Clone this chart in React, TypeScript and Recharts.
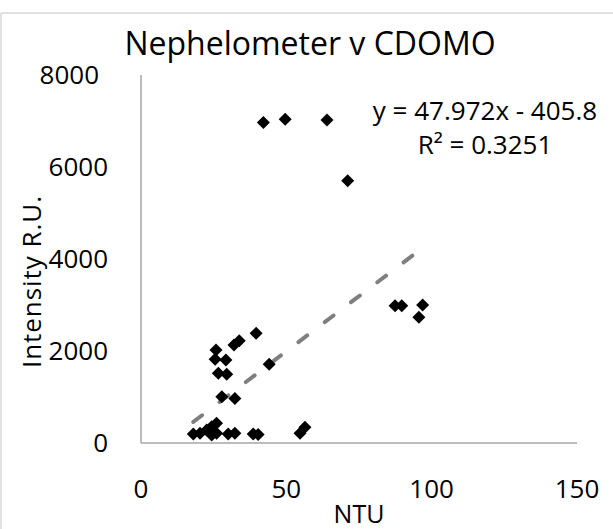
import { ReferenceLine, Scatter, ScatterChart, XAxis, YAxis } from "recharts";

// NTU readings vs CDOMO intensity
const ntu = [
  42.1, 49.6, 64.0, 71.1, 87.4, 89.7, 96.9, 95.6, 25.8, 25.5, 29.2, 26.6,
  29.5, 32.0, 33.8, 39.6, 44.1, 27.8, 32.3, 18.0, 20.3, 22.6, 24.3, 26.0,
  24.3, 26.0, 30.0, 32.3, 38.6, 40.3, 54.7, 56.4,
];
const intensity = [
  6970, 7040, 7020, 5700, 2985, 2985, 3000, 2735, 2020, 1820, 1805, 1515,
  1495, 2130, 2225, 2385, 1710, 1005, 970, 195, 210, 285, 355, 430, 175,
  210, 195, 210, 195, 185, 210, 340,
];

// linear trendline endpoints (y = 47.972x - 405.8)
const trendX = [18, 96];
const trendY = [458, 4200];

const xTicks = [0, 50, 100, 150];
const yTicks = [0, 2000, 4000, 6000, 8000];

const points = ntu.map((x, i) => ({ x, y: intensity[i] }));
const trend = trendX.map((x, i) => ({ x, y: trendY[i] }));

const FONT = "'Open Sans', sans-serif";
const tickStyle = { fill: "#000", fontSize: 26, fontFamily: FONT };

const Diamond = (props: any) => {
  const { cx, cy } = props;
  const r = 6.5;
  return (
    <polygon
      points={`${cx},${cy - r} ${cx + r},${cy} ${cx},${cy + r} ${cx - r},${cy}`}
      fill="#000"
    />
  );
};

// top label sits a bit further left in the original (squeezed by the title)
const YTick = (props: any) => {
  const { x, y, payload } = props;
  const shift = payload.value === 8000 ? -9 : 0;
  return (
    <text
      x={x + shift}
      y={y}
      dy="0.355em"
      textAnchor="end"
      fontFamily={FONT}
      fontSize={26}
      fill="#000"
    >
      {payload.value}
    </text>
  );
};

export default function App() {
  return (
    <div style={{ position: "relative", width: 613, height: 529, background: "#fff" }}>
      <style>{`body { margin: 0; }`}</style>
      <ScatterChart
        width={613}
        height={529}
        margin={{ top: 75, right: 36, bottom: 0, left: 0 }}
      >
        <XAxis
          type="number"
          dataKey="x"
          domain={[0, 150]}
          ticks={xTicks}
          height={86}
          tickLine={false}
          tickSize={0}
          tickMargin={37}
          axisLine={{ stroke: "#a6a6a6", strokeWidth: 1.5 }}
          tick={tickStyle}
        />
        <YAxis
          type="number"
          dataKey="y"
          domain={[0, 8000]}
          ticks={yTicks}
          width={141}
          tickLine={false}
          tickSize={0}
          tickMargin={33}
          axisLine={{ stroke: "#a6a6a6", strokeWidth: 1.5 }}
          tick={<YTick />}
        />
        <Scatter data={points} shape={<Diamond />} isAnimationActive={false} />
        <ReferenceLine
          segment={trend}
          stroke="#7f7f7f"
          strokeWidth={4}
          strokeDasharray="11 22"
          strokeLinecap="round"
        />
      </ScatterChart>
      <svg
        width={613}
        height={529}
        style={{ position: "absolute", left: 0, top: 0, pointerEvents: "none" }}
      >
        <line x1={1} y1={13} x2={613} y2={13} stroke="#d9d9d9" strokeWidth={1.5} />
        <line x1={1} y1={13} x2={1} y2={529} stroke="#d9d9d9" strokeWidth={1.5} />
        <text x={310} y={55} textAnchor="middle" fontFamily={FONT} fontSize={32} fill="#000">
          Nephelometer v CDOMO
        </text>
        <text x={485} y={120} textAnchor="middle" fontFamily={FONT} fontSize={26} fill="#000">
          y = 47.972x - 405.8
        </text>
        <text x={485} y={154} textAnchor="middle" fontFamily={FONT} fontSize={26} fill="#000">
          R² = 0.3251
        </text>
        <text x={359} y={523} textAnchor="middle" fontFamily={FONT} fontSize={25} fill="#000">
          NTU
        </text>
        <text
          x={41}
          y={282}
          textAnchor="middle"
          fontFamily={FONT}
          fontSize={26}
          fill="#000"
          textLength={172}
          lengthAdjust="spacing"
          transform="rotate(-90, 41, 282)"
        >
          Intensity R.U.
        </text>
      </svg>
    </div>
  );
}
